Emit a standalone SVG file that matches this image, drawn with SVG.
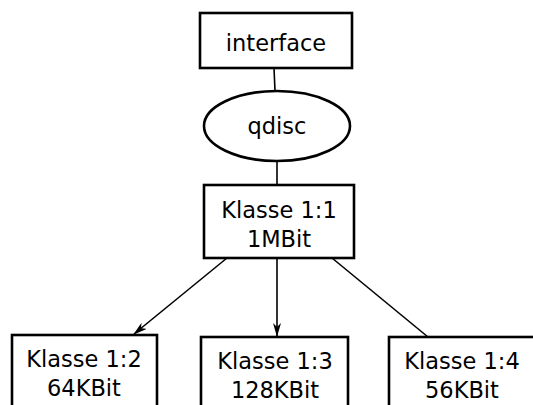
<svg xmlns="http://www.w3.org/2000/svg" width="533" height="405" viewBox="0 0 533 405">
  <style>
    .box { fill: #fff; stroke: #000; stroke-width: 2.6; }
    .lbl { font-family: "DejaVu Sans", sans-serif; font-size: 22.5px; fill: #000; text-anchor: middle; }
    .edge { fill: none; stroke: #000; stroke-width: 1.6; }
  </style>
  <defs>
    <marker id="arrow" viewBox="0 0 14 8" refX="13" refY="4" markerWidth="14" markerHeight="8" markerUnits="userSpaceOnUse" orient="auto">
      <path d="M0,0 L14,4 L0,8 L4,4 Z" fill="#000"/>
    </marker>
  </defs>
  <rect width="533" height="405" fill="#fff"/>
  <g id="connectors">
    <line class="edge" x1="274" y1="68" x2="275" y2="91"/>
    <line class="edge" x1="277" y1="161" x2="277" y2="185"/>
    <line class="edge" x1="227" y1="258" x2="134" y2="334" marker-end="url(#arrow)"/>
    <line class="edge" x1="277" y1="258" x2="277" y2="336" marker-end="url(#arrow)"/>
    <line class="edge" x1="332" y1="258" x2="428" y2="337"/>
  </g>
  <g id="interface">
    <rect class="box" x="200" y="13" width="152" height="55"/>
    <text class="lbl" x="276" y="51">interface</text>
  </g>
  <g id="qdisc">
    <ellipse class="box" cx="277" cy="126" rx="73" ry="35"/>
    <text class="lbl" x="277" y="134">qdisc</text>
  </g>
  <g id="klasse11">
    <rect class="box" x="204" y="185" width="150" height="73"/>
    <text class="lbl" x="279" y="218">Klasse 1:1</text>
    <text class="lbl" x="279" y="247">1MBit</text>
  </g>
  <g id="klasse12">
    <rect class="box" x="12" y="335" width="145" height="80"/>
    <text class="lbl" x="84" y="367">Klasse 1:2</text>
    <text class="lbl" x="84" y="396">64KBit</text>
  </g>
  <g id="klasse13">
    <rect class="box" x="201" y="337" width="147" height="80"/>
    <text class="lbl" x="275" y="369">Klasse 1:3</text>
    <text class="lbl" x="275" y="398">128KBit</text>
  </g>
  <g id="klasse14">
    <rect class="box" x="389" y="337" width="150" height="80"/>
    <text class="lbl" x="462" y="369">Klasse 1:4</text>
    <text class="lbl" x="462" y="398">56KBit</text>
  </g>
</svg>
